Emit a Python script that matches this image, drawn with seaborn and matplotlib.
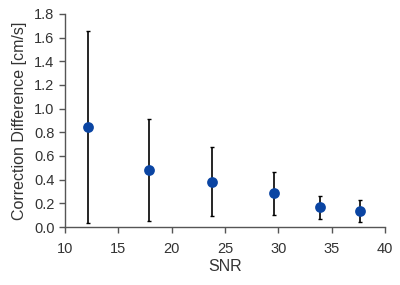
import numpy as np
import pandas as pd
import seaborn as sns
import matplotlib
matplotlib.use("Agg")
import matplotlib.pyplot as plt

# values
snr = [12.2, 17.9, 23.8, 29.6, 33.9, 37.7]
corr_diff = [0.845, 0.48, 0.383, 0.285, 0.166, 0.135]
err = [0.81, 0.43, 0.29, 0.183, 0.10, 0.095]
x_ticks = [10, 15, 20, 25, 30, 35, 40]
y_ticks = [0.0, 0.2, 0.4, 0.6, 0.8, 1.0, 1.2, 1.4, 1.6, 1.8]

df = pd.DataFrame({"SNR": snr, "diff": corr_diff, "err": err})

sns.set_style("ticks")
plt.rcParams['font.family'] = ['Liberation Sans', 'DejaVu Sans']

fig = plt.figure(figsize=(4, 2.85), dpi=100)
ax = fig.add_axes([0.1625, 0.2035, 0.8, 0.7475])

ax.errorbar(df["SNR"], df["diff"], yerr=df["err"], fmt="none",
            ecolor="black", elinewidth=1.2, capsize=1.5, capthick=1.0, zorder=2)
sns.scatterplot(data=df, x="SNR", y="diff", ax=ax, s=60, color="#0B45A3",
                edgecolor="#0B45A3", linewidth=0, zorder=3)

ax.set_xlim(10, 40)
ax.set_ylim(0, 1.8)
ax.set_xticks(x_ticks)
ax.set_yticks(y_ticks)
ax.set_yticklabels([f"{v:.1f}" for v in y_ticks])
ax.set_xlabel("SNR", fontsize=11.5, color="#333333", labelpad=2)
ax.set_ylabel("Correction Difference [cm/s]", fontsize=11.5, color="#333333", labelpad=5)

sns.despine(ax=ax)
for side in ["left", "bottom"]:
    ax.spines[side].set_color("#555555")
    ax.spines[side].set_linewidth(1.0)
ax.tick_params(axis="both", colors="#555555", labelcolor="#333333",
               labelsize=10.5, length=4, width=1.0, direction="out")
ax.tick_params(axis="x", pad=7)

fig.savefig("out.png", dpi=100)
